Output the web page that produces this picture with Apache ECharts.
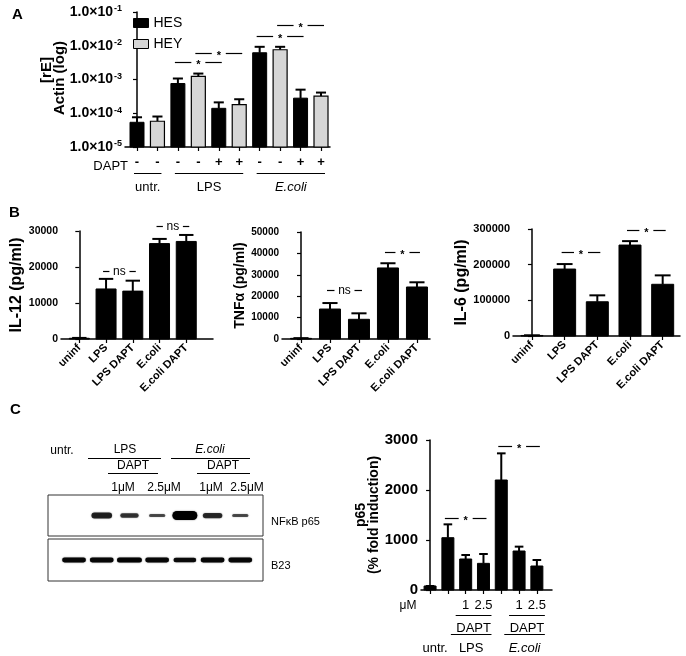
<!DOCTYPE html>
<html>
<head>
<meta charset="utf-8">
<script src="https://cdn.jsdelivr.net/npm/echarts@6/dist/echarts.min.js"></script>
<style>
html, body { margin: 0; padding: 0; background: #fff; }
#main { width: 686px; height: 656px; }
</style>
</head>
<body>
<div id="main"></div>
<script>
// ---- A: HES / HEY expression, relative to actin (log) ----
var hesMean = [5.4e-5, 7.6e-4, 1.4e-4, 6.2e-3, 2.8e-4];
var hesErr = [7.6e-5, 1.07e-3, 2.1e-4, 9.3e-3, 5.0e-4];
var heyMean = [5.8e-5, 1.23e-3, 1.8e-4, 7.6e-3, 3.2e-4];
var heyErr = [8.0e-5, 1.5e-3, 2.6e-4, 9.3e-3, 4.1e-4];
var daptSigns = ['-', '-', '-', '-', '+', '+', '-', '-', '+', '+'];
var groupsA = [['untr.', 0, 1], ['LPS', 2, 5], ['E.coli', 6, 9]];
var sigA = [[2, 4, 3.2e-3, '*'], [3, 5, 6.2e-3, '*'], [6, 8, 1.95e-2, '*'], [7, 9, 4.2e-2, '*']];

// ---- B: cytokines ----
var cytoCats = ['uninf', 'LPS', 'LPS DAPT', 'E.coli', 'E.coli DAPT'];
var il12Mean = [200, 13900, 13300, 26500, 27100];
var il12Err = [300, 16700, 16200, 27800, 28900];
var tnfMean = [300, 14000, 9200, 33200, 24300];
var tnfErr = [400, 16800, 12000, 35400, 26500];
var il6Mean = [1500, 187700, 96000, 255000, 145000];
var il6Err = [2000, 201700, 114000, 266000, 170000];
var sigIl12 = [[1, 2, 19000, 'ns'], [3, 4, 31500, 'ns']];
var sigTnf = [[1, 2, 22900, 'ns'], [3, 4, 40650, '*']];
var sigIl6 = [[1, 2, 235300, '*'], [3, 4, 297000, '*']];

// ---- C: p65 western blot + quantification ----
var p65Mean = [80, 1046, 620, 533, 2200, 780, 480];
var p65Err = [80, 1313, 700, 720, 2733, 867, 600];
var p65Dose = ['', '', '1', '2.5', '', '1', '2.5'];
var sigP65 = [[1, 3, 1446, '*'], [4, 6, 2886, '*']];
var daptGroupsC = [[2, 3], [5, 6]];
var treatGroupsC = [['LPS', 1, 3], ['E.coli', 4, 6]];
var blotP65 = [0, 0.6, 0.4, 0.2, 1.0, 0.5, 0.2];
var blotB23 = [0.9, 0.9, 0.95, 0.9, 0.85, 0.9, 0.9];

var FONT = '"Liberation Sans", Arial, sans-serif';
var chart = echarts.init(document.getElementById('main'));

function range(n) { var a = []; for (var i = 0; i < n; i++) a.push(i); return a; }

// bar with upward error bar, drawn through the axes
function barSeries(name, gi, xs, means, errs, base, w, itemStyle) {
  return {
    name: name, type: 'custom', xAxisIndex: gi, yAxisIndex: gi, clip: false,
    itemStyle: itemStyle,
    encode: { x: 0, y: 1 },
    data: means.map(function (m, i) { return [xs[i], m, errs[i]]; }),
    renderItem: function (params, api) {
      var top = api.coord([api.value(0), api.value(1)]);
      var bot = api.coord([api.value(0), base]);
      var er = api.coord([api.value(0), api.value(2)]);
      var cap = w * 0.36;
      return {
        type: 'group', children: [
          { type: 'line', shape: { x1: top[0], y1: top[1], x2: top[0], y2: er[1] }, style: { stroke: '#000', lineWidth: 2 } },
          { type: 'line', shape: { x1: top[0] - cap, y1: er[1], x2: top[0] + cap, y2: er[1] }, style: { stroke: '#000', lineWidth: 2 } },
          { type: 'rect', shape: { x: top[0] - w / 2, y: top[1], width: w, height: bot[1] - top[1] }, style: api.style() }
        ]
      };
    }
  };
}

// blot band: width and thickness follow the band intensity
function bandSeries(gi, vals, wBase, wGain, hBase, hGain) {
  return {
    type: 'custom', xAxisIndex: gi, yAxisIndex: gi,
    encode: { x: 0, y: 1 },
    data: vals.map(function (v, i) { return [i, v]; }),
    renderItem: function (params, api) {
      var v = api.value(1);
      if (!v) return null;
      var c = api.coord([api.value(0), 0.5]);
      var w = wBase + wGain * v, h = hBase + hGain * v;
      return {
        type: 'rect',
        shape: { x: c[0] - w / 2, y: c[1] - h / 2, width: w, height: h, r: h / 2 },
        style: { fill: 'rgba(0,0,0,' + (0.5 + 0.5 * v) + ')', shadowBlur: 1.5, shadowColor: 'rgba(0,0,0,0.6)' }
      };
    }
  };
}

function xValueAxis(gi, min, max, ticks, labelVals, fmt, labelOpt) {
  return {
    gridIndex: gi, type: 'value', min: min, max: max,
    axisLine: { show: true, onZero: false, lineStyle: { color: '#000', width: 1.5 } },
    axisTick: { show: true, customValues: ticks, length: 4, lineStyle: { color: '#000', width: 1.2 } },
    axisLabel: Object.assign({ customValues: labelVals, formatter: fmt, color: '#000', fontFamily: FONT }, labelOpt),
    splitLine: { show: false }
  };
}

function yLinAxis(gi, max, step, name, nameGap, nameSize, labelSize) {
  return {
    gridIndex: gi, type: 'value', min: 0, max: max, interval: step,
    name: name, nameLocation: 'middle', nameRotate: 90, nameGap: nameGap,
    nameTextStyle: { fontSize: nameSize, fontWeight: 'bold', color: '#000', fontFamily: FONT },
    axisLine: { show: true, lineStyle: { color: '#000', width: 1.5 } },
    axisTick: { show: true, length: 4, lineStyle: { color: '#000', width: 1.2 } },
    axisLabel: { fontSize: labelSize, fontWeight: 'bold', color: '#000', margin: 3, fontFamily: FONT,
      formatter: function (v) { return String(v); } },
    splitLine: { show: false }
  };
}

var catFmt = function (v) { return cytoCats[Math.round(v)]; };
var catLabel = { rotate: 45, fontSize: 11, fontWeight: 'bold', margin: 7 };
var blackBar = { color: '#000', borderColor: '#000', borderWidth: 1 };

var option = {
  animation: false,
  textStyle: { fontFamily: FONT },
  legend: {
    left: 128, top: 11, orient: 'vertical', itemWidth: 15, itemHeight: 9, itemGap: 7,
    icon: 'rect',
    textStyle: { fontSize: 14, color: '#000', fontFamily: FONT },
    data: [
      { name: 'HES', itemStyle: { color: '#000', borderColor: '#000', borderWidth: 1 } },
      { name: 'HEY', itemStyle: { color: '#d6d6d6', borderColor: '#000', borderWidth: 1 } }
    ]
  },
  grid: [
    { left: 125, top: 12, width: 205, height: 135 },
    { left: 61, top: 231, width: 152, height: 108 },
    { left: 282, top: 232, width: 148, height: 107 },
    { left: 513, top: 229, width: 167, height: 107 },
    { left: 421, top: 440, width: 131, height: 150 },
    { left: 48, top: 495, width: 215, height: 41, show: true, borderColor: '#333', borderWidth: 1 },
    { left: 48, top: 539, width: 215, height: 42, show: true, borderColor: '#333', borderWidth: 1 }
  ],
  xAxis: [
    xValueAxis(0, -0.587, 9.44, range(10), range(10), function (v) { return daptSigns[Math.round(v)]; },
      { fontSize: 13, fontWeight: 'bold', margin: 9 }),
    xValueAxis(1, -0.685, 5.0, range(5), range(5), catFmt, catLabel),
    xValueAxis(2, -0.655, 4.45, range(5), range(5), catFmt, catLabel),
    xValueAxis(3, -0.58, 4.53, range(5), range(5), catFmt, catLabel),
    xValueAxis(4, -0.51, 6.85, range(7), [2, 3, 5, 6], function (v) { return p65Dose[Math.round(v)]; },
      { fontSize: 13, margin: 9 }),
    { gridIndex: 5, type: 'value', min: -0.94, max: 6.82, show: false },
    { gridIndex: 6, type: 'value', min: -0.94, max: 6.82, show: false }
  ],
  yAxis: [
    {
      gridIndex: 0, type: 'log', logBase: 10, min: 1e-5, max: 1e-1,
      axisLine: { show: true, lineStyle: { color: '#000', width: 1.5 } },
      axisTick: { show: true, length: 4, lineStyle: { color: '#000', width: 1.2 } },
      axisLabel: {
        margin: 3, color: '#000',
        formatter: function (v) { return '{b|1.0\u00d710}{s|' + Math.round(Math.log(v) / Math.LN10) + '}'; },
        rich: {
          b: { fontSize: 14, fontWeight: 'bold', fontFamily: FONT, color: '#000' },
          s: { fontSize: 9, fontWeight: 'bold', fontFamily: FONT, color: '#000', verticalAlign: 'top', padding: [0, 0, 6, 1] }
        }
      },
      splitLine: { show: false }
    },
    yLinAxis(1, 30000, 10000, 'IL-12 (pg/ml)', 36, 16, 10.5),
    yLinAxis(2, 50000, 10000, 'TNF\u03b1 (pg/ml)', 25, 14, 10),
    yLinAxis(3, 300000, 100000, 'IL-6 (pg/ml)', 32, 16, 11),
    yLinAxis(4, 3000, 1000, 'p65\n(% fold induction)', 35, 14, 15),
    { gridIndex: 5, type: 'value', min: 0, max: 1, show: false },
    { gridIndex: 6, type: 'value', min: 0, max: 1, show: false }
  ],
  series: [
    barSeries('HES', 0, [0, 2, 4, 6, 8], hesMean, hesErr, 1e-5, 14, blackBar),
    barSeries('HEY', 0, [1, 3, 5, 7, 9], heyMean, heyErr, 1e-5, 14, { color: '#d6d6d6', borderColor: '#000', borderWidth: 1.2 }),
    barSeries('IL-12', 1, range(5), il12Mean, il12Err, 0, 20, blackBar),
    barSeries('TNFa', 2, range(5), tnfMean, tnfErr, 0, 21, blackBar),
    barSeries('IL-6', 3, range(5), il6Mean, il6Err, 0, 22, blackBar),
    barSeries('p65', 4, range(7), p65Mean, p65Err, 0, 12, blackBar),
    bandSeries(5, blotP65, 14, 11, 1.5, 7.5),
    bandSeries(6, blotB23, 4, 22, 2, 3.2)
  ]
};
option.yAxis[4].nameTextStyle.lineHeight = 13;
chart.setOption(option);

// ---- annotations placed through the axes ----
function px(gi, x, y) { return chart.convertToPixel({ gridIndex: gi }, [x, y]); }
function ln(x1, y1, x2, y2, w) {
  return { type: 'line', silent: true, shape: { x1: x1, y1: y1, x2: x2, y2: y2 }, style: { stroke: '#000', lineWidth: w || 1.2 } };
}
function txt(x, y, s, font, align, valign) {
  return { type: 'text', silent: true, x: x, y: y,
    style: { text: s, fill: '#000', font: font, textAlign: align || 'center', textVerticalAlign: valign || 'middle' } };
}
var g = [];

function sig(gi, list) {
  list.forEach(function (s) {
    var a = px(gi, s[0], s[2]), b = px(gi, s[1], s[2]);
    var x0 = a[0] - 3, x1 = b[0] + 3, y = Math.round(a[1]) + 0.5, mid = (x0 + x1) / 2;
    var gap = s[3] === 'ns' ? 10 : 7;
    g.push(ln(x0, y, mid - gap, y), ln(mid + gap, y, x1, y));
    if (s[3] === 'ns') g.push(txt(mid, y, 'ns', '12px ' + FONT));
    else g.push(txt(mid, y + 2, '*', 'bold 11px ' + FONT));
  });
}
sig(0, sigA); sig(1, sigIl12); sig(2, sigTnf); sig(3, sigIl6); sig(4, sigP65);

// A: y title, two rotated lines
var t1 = txt(46.5, 70, '[rE]', 'bold 15px ' + FONT); t1.rotation = Math.PI / 2;
var t2 = txt(59.5, 78, 'Actin (log)', 'bold 15px ' + FONT); t2.rotation = Math.PI / 2;
g.push(t1, t2);

// A: treatment groups under the axis
var baseA = px(0, 0, 1e-5)[1];
g.push(txt(128, baseA + 19, 'DAPT', '13px ' + FONT, 'right'));
groupsA.forEach(function (gr) {
  var x0 = px(0, gr[1], 1e-5)[0] - 3, x1 = px(0, gr[2], 1e-5)[0] + 4;
  g.push(ln(x0, baseA + 26.5, x1, baseA + 26.5, 1));
  g.push(txt((x0 + x1) / 2, baseA + 40, gr[0], (gr[0] === 'E.coli' ? 'italic ' : '') + '13px ' + FONT));
});

// C quantification: groups under the axis
var baseC = px(4, 0, 0)[1];
g.push(txt(408, baseC + 16, '\u03bcM', '12px ' + FONT));
daptGroupsC.forEach(function (gr) {
  var x0 = px(4, gr[0], 0)[0] - 10, x1 = px(4, gr[1], 0)[0] + 8;
  g.push(ln(x0, baseC + 25.5, x1, baseC + 25.5, 1));
  g.push(txt((x0 + x1) / 2, baseC + 38, 'DAPT', '13px ' + FONT));
});
treatGroupsC.forEach(function (gr) {
  var x0 = px(4, gr[1], 0)[0] + 3, x1 = px(4, gr[2], 0)[0] + 8;
  g.push(ln(x0, baseC + 44.5, x1, baseC + 44.5, 1));
  g.push(txt((x0 + x1) / 2, baseC + 58, gr[0], (gr[0] === 'E.coli' ? 'italic ' : '') + '13px ' + FONT));
});
g.push(txt(px(4, 0, 0)[0] + 5, baseC + 58, 'untr.', '13px ' + FONT));

// blot header and row labels
g.push(txt(62, 451, 'untr.', '12px ' + FONT));
g.push(txt(125, 450, 'LPS', '12px ' + FONT));
g.push(ln(88, 458.5, 161, 458.5, 1));
g.push(txt(210, 450, 'E.coli', 'italic 12px ' + FONT));
g.push(ln(171, 458.5, 250, 458.5, 1));
g.push(txt(133, 466, 'DAPT', '12px ' + FONT));
g.push(ln(108, 473.5, 158, 473.5, 1));
g.push(txt(223, 466, 'DAPT', '12px ' + FONT));
g.push(ln(197, 473.5, 250, 473.5, 1));
g.push(txt(123, 488, '1\u03bcM', '12px ' + FONT));
g.push(txt(164, 488, '2.5\u03bcM', '12px ' + FONT));
g.push(txt(211, 488, '1\u03bcM', '12px ' + FONT));
g.push(txt(247, 488, '2.5\u03bcM', '12px ' + FONT));
g.push(txt(271, 522, 'NF\u03baB p65', '11px ' + FONT, 'left'));
g.push(txt(271, 566, 'B23', '11px ' + FONT, 'left'));

// panel letters
g.push(txt(12, 15, 'A', 'bold 15px ' + FONT, 'left'));
g.push(txt(9, 213, 'B', 'bold 15px ' + FONT, 'left'));
g.push(txt(10, 410, 'C', 'bold 15px ' + FONT, 'left'));

chart.setOption({ graphic: g });
</script>
</body>
</html>
